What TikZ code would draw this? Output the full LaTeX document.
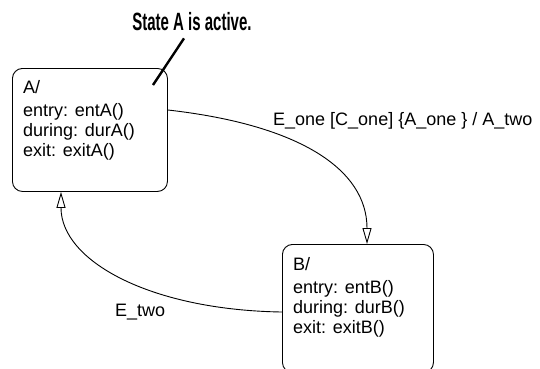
\documentclass[tikz,border=0pt]{standalone}
\usepackage{fontspec}
\setmainfont{Liberation Sans}
\newfontfamily\notefont[FakeStretch=0.6]{Liberation Sans}
\usetikzlibrary{arrows.meta,positioning}
\begin{document}
\begin{tikzpicture}[x=1pt,y=-1pt,line join=round,line cap=round,
  state/.style={draw,line width=0.9pt,rounded corners=10pt,minimum width=155pt,anchor=north west,inner sep=0pt},
  statetext/.style={anchor=north west,align=left,inner sep=0pt,font=\fontsize{18}{20}\selectfont},
  trans/.style={line width=0.9pt,-{Triangle[open,length=16pt,width=9pt]}},
  lbl/.style={anchor=west,inner sep=0pt,font=\fontsize{18}{20}\selectfont}]
  \useasboundingbox (0,0) rectangle (540,368);
  \node[state,minimum height=123pt] (A) at (12,68) {};
  \node[state,minimum width=151pt,minimum height=128pt] (B) at (282,244) {};
  \node[statetext] (Atext) at ([xshift=11pt,yshift=-12pt]A.north west)
    {A/\\[3pt]entry: entA()\\during: durA()\\exit: exitA()};
  \node[statetext] (Btext) at ([xshift=11pt,yshift=-13pt]B.north west)
    {B/\\[3pt]entry: entB()\\during: durB()\\exit: exitB()};
  \draw[trans] ([yshift=-42pt]A.north east) .. controls +(133,15) and +(0,-74) .. ([xshift=85pt]B.north west);
  \draw[trans] ([yshift=-68pt]B.north west) .. controls +(-132,-2) and +(0,69) .. ([xshift=49pt]A.south west);
  \node[lbl] (eone) at (273,121) {E\_one [C\_one] \{A\_one \} / A\_two};
  \node[lbl] (etwo) at (115,312) {E\_two};
  \node[font={\notefont\bfseries\fontsize{25}{28}\selectfont},inner sep=1pt] (note) at (192,22) {State A is active.};
  \coordinate (tip) at (153,85);
  \draw[line width=2.4pt,line cap=butt] ([xshift=-8pt,yshift=-6pt]note.south) -- (tip);
\end{tikzpicture}
\end{document}
